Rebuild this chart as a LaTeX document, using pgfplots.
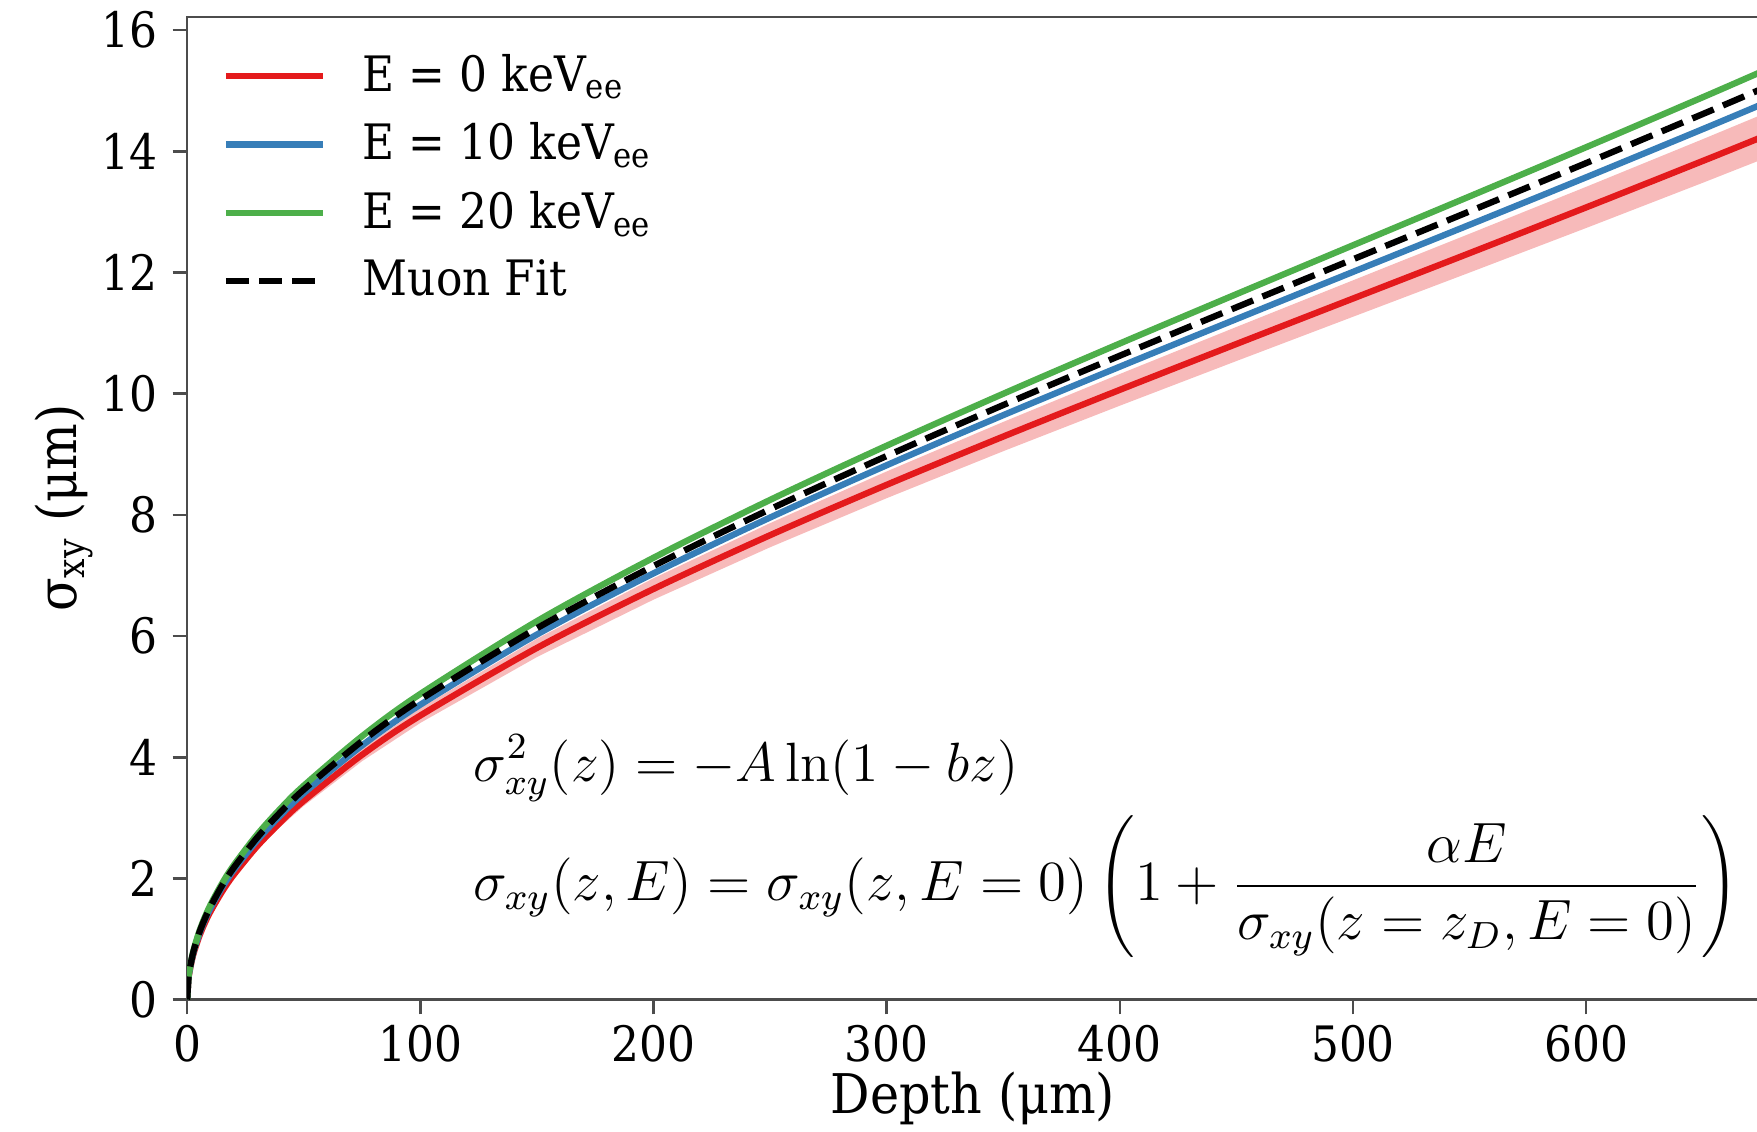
\documentclass[border=0pt]{standalone}
\usepackage[no-math]{fontspec}
\setmainfont[FakeStretch=0.9]{DejaVu Serif}
\usepackage{pgfplots}
\usepackage{pgfplotstable}
\pgfplotsset{compat=1.18}
\usepgfplotslibrary{fillbetween}
\definecolor{cred}{HTML}{E41A1C}
\definecolor{cblue}{HTML}{377EB8}
\definecolor{cgreen}{HTML}{4DAF4A}
\pgfplotstableread{
z muon red blue green lo hi
0 0 0 0 0 0 0
0.5 0.3432 0.3250 0.3374 0.3497 0.3166 0.3335
1 0.4855 0.4598 0.4773 0.4947 0.4478 0.4718
2 0.6866 0.6502 0.6749 0.6996 0.6333 0.6671
3 0.8411 0.7965 0.8268 0.8570 0.7758 0.8172
5 1.0860 1.0284 1.0675 1.1066 1.0017 1.0551
7 1.2859 1.2177 1.2640 1.3102 1.1860 1.2494
10 1.5380 1.4565 1.5118 1.5672 1.4186 1.4944
15 1.8853 1.7854 1.8532 1.9211 1.7390 1.8318
20 2.1790 2.0635 2.1419 2.2203 2.0098 2.1172
30 2.6740 2.5323 2.6285 2.7248 2.4665 2.5981
40 3.0940 2.9300 3.0413 3.1527 2.8538 3.0062
50 3.4660 3.2823 3.4070 3.5318 3.1970 3.3676
75 4.2670 4.0408 4.1943 4.3479 3.9357 4.1459
100 4.9520 4.6895 4.8677 5.0459 4.5676 4.8114
150 6.1300 5.8051 6.0257 6.2463 5.6542 5.9560
200 7.1570 6.7777 7.0353 7.2928 6.6015 6.9539
250 8.0940 7.6650 7.9563 8.2475 7.4657 7.8643
300 8.9720 8.4965 8.8194 9.1422 8.2756 8.7174
350 9.8130 9.2929 9.6460 9.9992 9.0513 9.5345
400 10.627 10.0638 10.4462 10.8286 9.8021 10.3255
450 11.426 10.8204 11.2316 11.6428 10.5391 11.1017
500 12.218 11.5704 12.0101 12.4497 11.2696 11.8712
550 13.009 12.3195 12.7876 13.2558 11.9992 12.6398
600 13.806 13.0743 13.5711 14.0679 12.7344 13.4142
650 14.615 13.8404 14.3663 14.8923 13.4805 14.2003
675 15.026 14.2296 14.7703 15.3110 13.8596 14.5996
}\datatable
\begin{document}
\begin{tikzpicture}
\begin{axis}[
  name=ax,
  scale only axis,
  width=373.5pt, height=233.6pt,
  xmin=0, xmax=674, ymin=0, ymax=16.22,
  xtick={0,100,...,600}, ytick={0,2,...,16},
  tick pos=left, tick align=outside,
  major tick length=3.5pt,
  axis line style={black!70, line width=0.6pt},
  every tick/.style={black!70, line width=0.6pt},
  /pgf/number format/assume math mode=true,
  ticklabel style={font=\fontsize{11.6}{13}\selectfont},
  xticklabel style={yshift=1pt},
  xlabel={Depth (μm)},
  ylabel={σ\textsubscript{xy} (μm)},
  every axis x label/.style={at={(axis description cs:0.5,-0.1)}, anchor=center, font=\fontsize{13}{15}\selectfont},
  every axis y label/.style={at={(axis description cs:-0.0785,0.5)}, anchor=center, rotate=90, font=\fontsize{13}{15}\selectfont},
  legend style={draw=none, fill=none, at={(axis description cs:0.014,0.98)}, anchor=north west,
    font=\fontsize{11.6}{13}\selectfont, row sep=2.0pt,
    /tikz/every odd column/.append style={column sep=6.8pt}},
  legend cell align=left,
  legend image code/.code={\draw[#1] (0pt,0pt) -- (23pt,0pt);},
]
\addplot[name path=hi, draw=none, forget plot] table[x=z, y=hi] {\datatable};
\addplot[name path=lo, draw=none, forget plot] table[x=z, y=lo] {\datatable};
\addplot[fill=cred, fill opacity=0.3, draw=none, forget plot] fill between[of=hi and lo];
\addplot[cred, line width=1.5pt, smooth] table[x=z, y=red] {\datatable};
\addlegendentry{E = 0 keV\textsubscript{ee}}
\addplot[cblue, line width=1.5pt, smooth] table[x=z, y=blue] {\datatable};
\addlegendentry{E = 10 keV\textsubscript{ee}}
\addplot[cgreen, line width=1.5pt, smooth] table[x=z, y=green] {\datatable};
\addlegendentry{E = 20 keV\textsubscript{ee}}
\addplot[black, line width=1.5pt, dash pattern=on 5.5pt off 2.4pt, smooth] table[x=z, y=muon] {\datatable};
\addlegendentry{Muon Fit}
\node[anchor=west, font=\fontsize{12}{14}\selectfont, scale=1.097] at (axis cs:116,3.82)
  {$\displaystyle \sigma^2_{xy}(z) = -A\ln(1-bz)$};
\node[anchor=west, font=\fontsize{12}{14}\selectfont, scale=1.125] at (axis cs:115.5,1.87)
  {$\displaystyle \sigma_{xy}(z,E) = \sigma_{xy}(z,E=0)\left(1+\frac{\alpha E}{\sigma_{xy}(z=z_D,E=0)}\right)$};
\end{axis}
\pgfresetboundingbox
\path[use as bounding box] ([xshift=-44.5pt,yshift=-31.4pt]ax.south west) rectangle ([xshift=-0.4pt,yshift=4pt]ax.north east);
\end{tikzpicture}
\end{document}
